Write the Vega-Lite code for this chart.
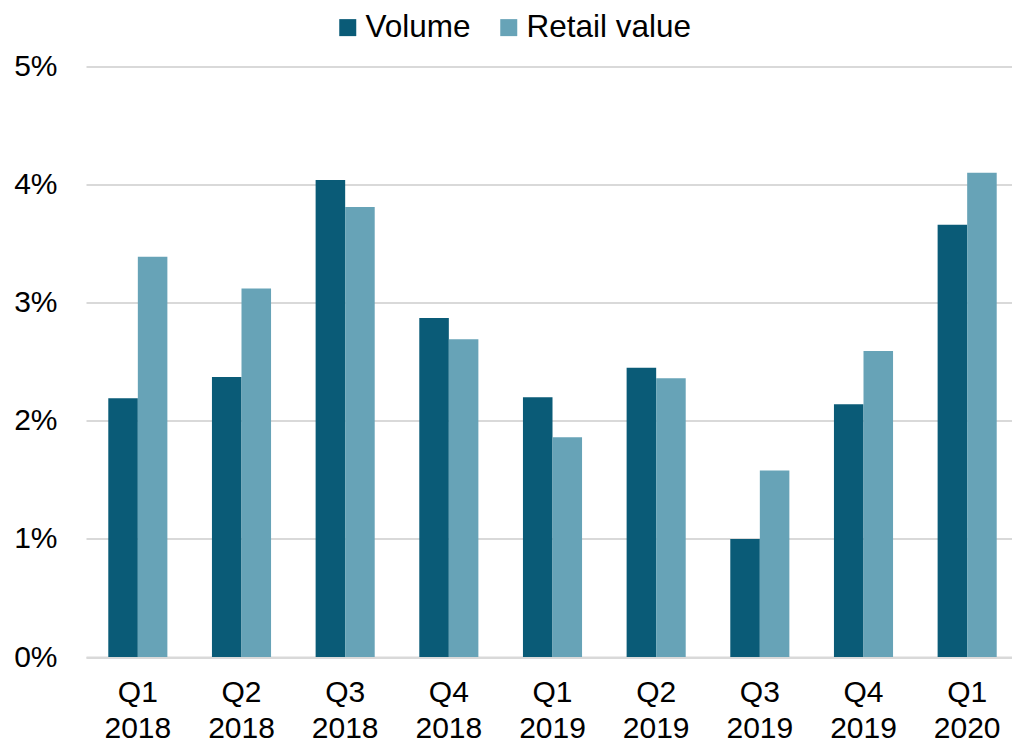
{
  "$schema": "https://vega.github.io/schema/vega-lite/v6.json",
  "width": 926,
  "height": 590.5,
  "autosize": {"type": "none"},
  "padding": {"left": 86, "top": 66.5, "right": 0, "bottom": 87},
  "background": "white",
  "config": {
    "view": {"stroke": null},
    "font": "Liberation Sans",
    "axis": {"labelFont": "Liberation Sans", "labelColor": "#000000"},
    "legend": {"labelFont": "Liberation Sans", "labelColor": "#000000"}
  },
  "data": {
    "values": [
      {"quarter": "Q1 2018", "series": "Volume", "value": 0.0219},
      {"quarter": "Q1 2018", "series": "Retail value", "value": 0.0339},
      {"quarter": "Q2 2018", "series": "Volume", "value": 0.0237},
      {"quarter": "Q2 2018", "series": "Retail value", "value": 0.0312},
      {"quarter": "Q3 2018", "series": "Volume", "value": 0.0404},
      {"quarter": "Q3 2018", "series": "Retail value", "value": 0.0381},
      {"quarter": "Q4 2018", "series": "Volume", "value": 0.0287},
      {"quarter": "Q4 2018", "series": "Retail value", "value": 0.0269},
      {"quarter": "Q1 2019", "series": "Volume", "value": 0.0220},
      {"quarter": "Q1 2019", "series": "Retail value", "value": 0.0186},
      {"quarter": "Q2 2019", "series": "Volume", "value": 0.0245},
      {"quarter": "Q2 2019", "series": "Retail value", "value": 0.0236},
      {"quarter": "Q3 2019", "series": "Volume", "value": 0.0100},
      {"quarter": "Q3 2019", "series": "Retail value", "value": 0.0158},
      {"quarter": "Q4 2019", "series": "Volume", "value": 0.0214},
      {"quarter": "Q4 2019", "series": "Retail value", "value": 0.0259},
      {"quarter": "Q1 2020", "series": "Volume", "value": 0.0366},
      {"quarter": "Q1 2020", "series": "Retail value", "value": 0.0410}
    ]
  },
  "mark": {"type": "bar"},
  "encoding": {
    "x": {
      "field": "quarter",
      "type": "nominal",
      "sort": null,
      "scale": {"range": [0, 933], "paddingInner": 0.43, "paddingOuter": 0.215},
      "axis": {
        "title": null,
        "labelAngle": 0,
        "labelExpr": "split(datum.label, ' ')",
        "labelFontSize": 30,
        "labelLineHeight": 36,
        "labelPadding": 20,
        "ticks": false,
        "domain": true,
        "domainColor": "#d9d9d9",
        "domainWidth": 2,
        "grid": false
      }
    },
    "xOffset": {
      "field": "series",
      "type": "nominal",
      "sort": ["Volume", "Retail value"]
    },
    "y": {
      "field": "value",
      "type": "quantitative",
      "scale": {"domain": [0, 0.05], "nice": false},
      "axis": {
        "title": null,
        "format": ".0%",
        "values": [0, 0.01, 0.02, 0.03, 0.04, 0.05],
        "labelFontSize": 30,
        "labelPadding": 29,
        "ticks": false,
        "domain": false,
        "grid": true,
        "gridColor": "#d9d9d9",
        "gridWidth": 2
      }
    },
    "color": {
      "field": "series",
      "type": "nominal",
      "sort": ["Volume", "Retail value"],
      "scale": {"domain": ["Volume", "Retail value"], "range": ["#0a5b77", "#67a3b7"]},
      "legend": {
        "title": null,
        "orient": "none",
        "direction": "horizontal",
        "legendX": 246,
        "legendY": -55,
        "symbolType": "square",
        "symbolSize": 289,
        "symbolStrokeWidth": 0,
        "labelFontSize": 31.5,
        "labelLimit": 400,
        "labelOffset": 2,
        "columnPadding": 22,
        "padding": 0
      }
    }
  }
}
